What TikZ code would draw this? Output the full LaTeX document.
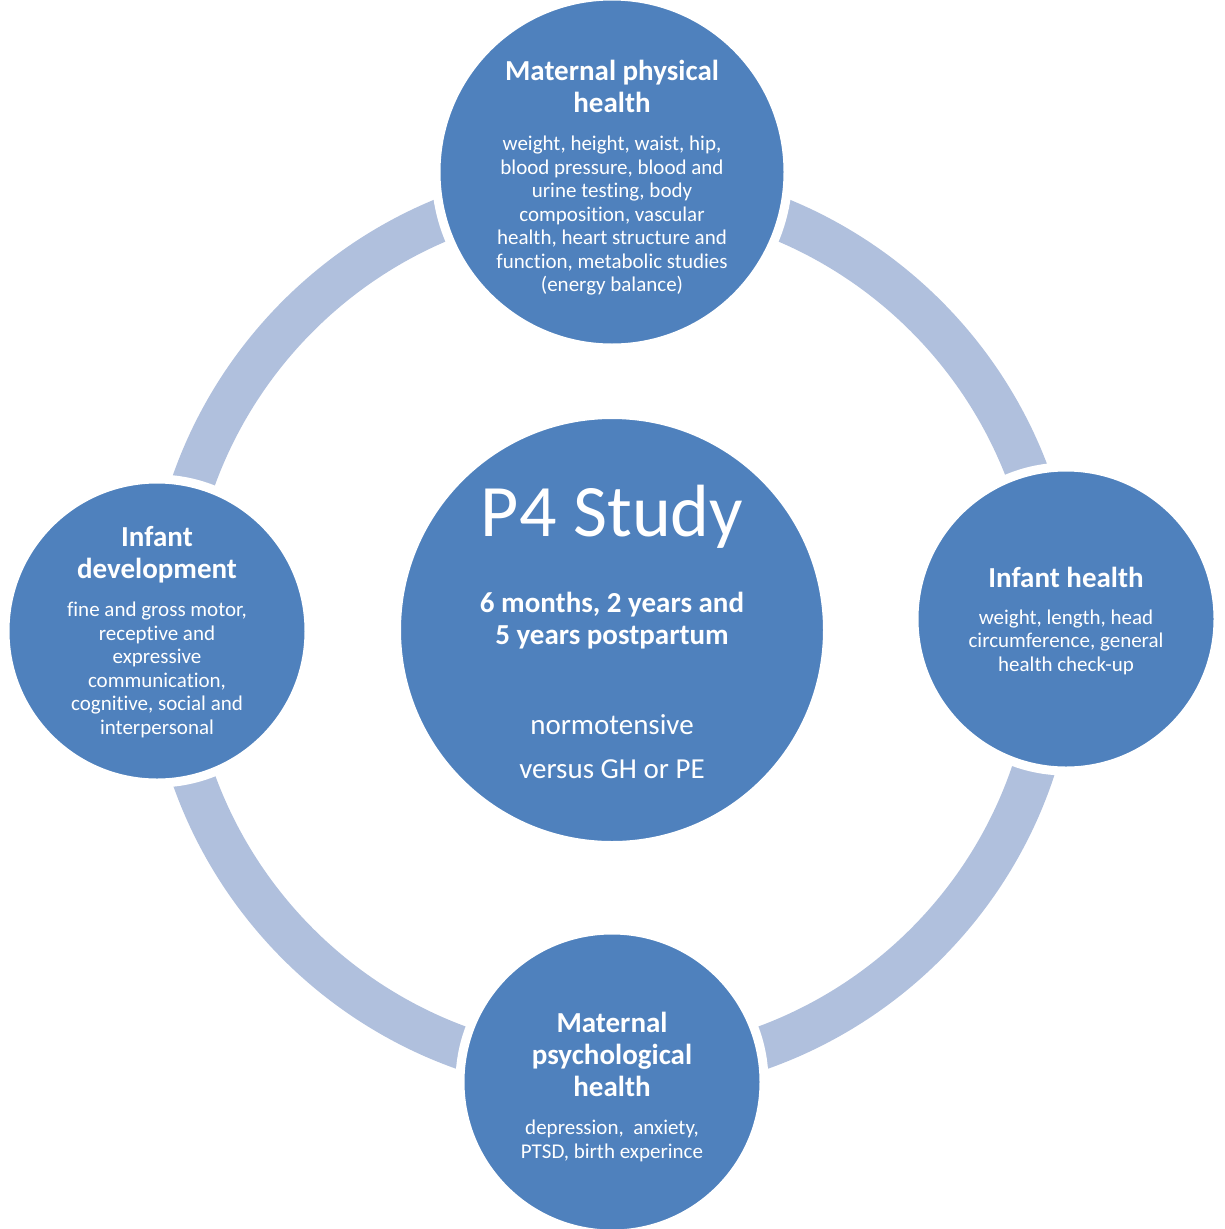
\documentclass[tikz,border=0pt]{standalone}
\usepackage{fontspec}
\setmainfont{Carlito}[Ligatures=NoCommon]
\usetikzlibrary{positioning}

\definecolor{cycleblue}{HTML}{4F81BD}
\definecolor{ringblue}{HTML}{B0C0DD}

\begin{document}
\begin{tikzpicture}[
  x=1pt, y=-1pt,
  ring/.style={draw=ringblue, line width=43pt},
  bubble/.style={draw=white, line width=9pt, circle, fill=cycleblue, inner sep=0pt},
  head/.style={text=white, align=center, font=\fontsize{29}{32}\selectfont\bfseries},
  body/.style={text=white, align=center, font=\fontsize{21}{23.5}\selectfont}
]
\useasboundingbox (0,0) rectangle (1224,1229);

% cycle ring behind the bubbles
\coordinate (cyc) at (612,630);
\draw[ring] (cyc) circle[radius=444];

\node[bubble, minimum size=352] (phys) at (612,172) {};
\node[bubble, minimum size=304] (inf) at (1066,619) {};
\node[bubble, minimum size=304] (psych) at (612,1082) {};
\node[bubble, minimum size=304] (dev) at (157,631) {};
\node[bubble, minimum size=431] (hub) at (cyc) {};

% maternal physical health
\node[head] (phys-head) at (612,86) {Maternal physical\\health};
\node[body] (phys-body) at (612,216)
  {weight, height, waist, hip,\\blood pressure, blood and\\urine testing, body\\
   composition, vascular\\health, heart structure and\\function, metabolic studies\\
   (energy balance)};

% infant health
\node[head] (inf-head) at (1066,577) {Infant health};
\node[body] (inf-body) at (1066,642)
  {weight, length, head\\circumference, general\\health check-up};

% maternal psychological health
\node[head] (psych-head) at (612,1054) {Maternal\\psychological\\health};
\node[body] (psych-body) at (612,1141)
  {depression,\ \ anxiety,\\PTSD, birth experince};

% infant development
\node[head] (dev-head) at (157,555) {Infant\\development};
\node[body] (dev-body) at (157,670)
  {fine and gross motor,\\receptive and\\expressive\\communication,\\
   cognitive, social and\\interpersonal};

% study in the middle
\node[text=white, font=\fontsize{74}{80}\selectfont] (hub-title) at (612,517) {P4 Study};
\node[head] (hub-time) at (612,621) {6 months, 2 years and\\5 years postpartum};
\node[text=white, align=center, font=\fontsize{29}{44}\selectfont] (hub-groups) at (612,747)
  {normotensive\\versus GH or PE};
\end{tikzpicture}
\end{document}
